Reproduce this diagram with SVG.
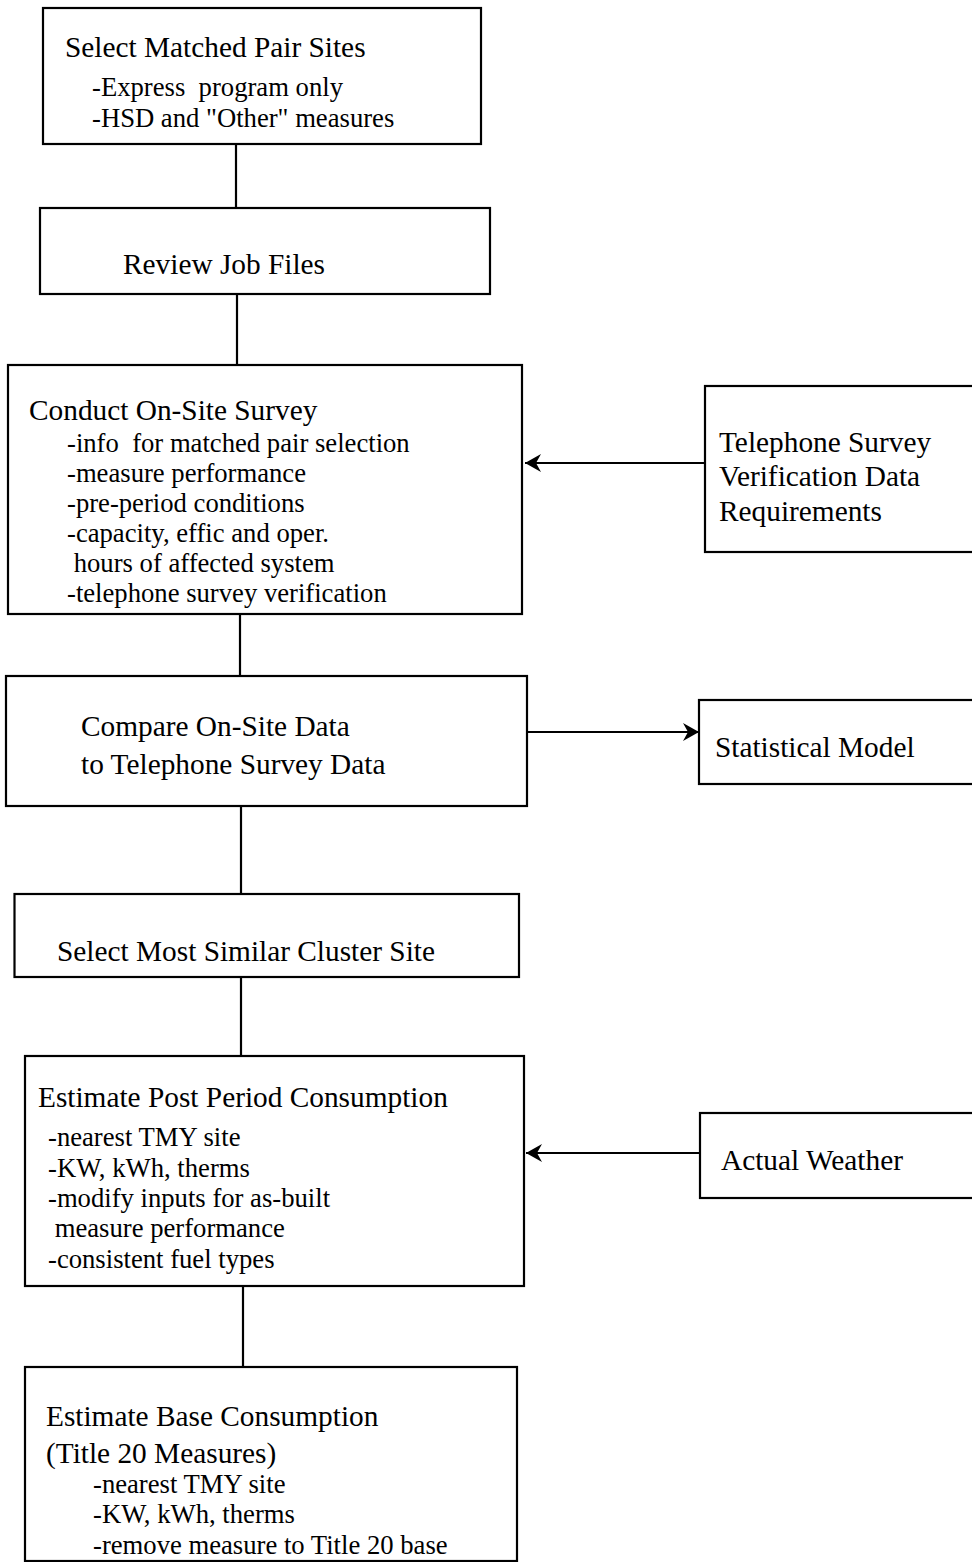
<svg xmlns="http://www.w3.org/2000/svg" width="972" height="1562" viewBox="0 0 972 1562">
  <style>
    .box { fill: #ffffff; stroke: #000000; stroke-width: 2.2; }
    .link { fill: none; stroke: #000000; stroke-width: 2.2; }
    text { font-family: "Liberation Serif", "Times New Roman", serif; fill: #000000; white-space: pre; }
    .title { font-size: 29.33px; }
    .sub { font-size: 26.67px; }
  </style>
  <defs>
    <marker id="arrow" markerUnits="userSpaceOnUse" markerWidth="18" markerHeight="20" refX="16" refY="9" orient="auto">
      <path d="M0,0 L16,9 L0,18 L5,9 Z" fill="#000000"/>
    </marker>
  </defs>
  <rect x="0" y="0" width="972" height="1562" fill="#ffffff"/>

  <!-- connectors -->
  <g id="connectors">
    <line class="link" x1="236" y1="144" x2="236" y2="208"/>
    <line class="link" x1="237" y1="294" x2="237" y2="365"/>
    <line class="link" x1="240" y1="614" x2="240" y2="676"/>
    <line class="link" x1="241" y1="806" x2="241" y2="894"/>
    <line class="link" x1="241" y1="977" x2="241" y2="1056"/>
    <line class="link" x1="243" y1="1286" x2="243" y2="1367"/>
    <line class="link" x1="705" y1="463" x2="525" y2="463" marker-end="url(#arrow)"/>
    <line class="link" x1="527" y1="732" x2="699" y2="732" marker-end="url(#arrow)"/>
    <line class="link" x1="700" y1="1153" x2="526" y2="1153" marker-end="url(#arrow)"/>
  </g>

  <g id="select-matched-pair">
    <rect class="box" x="43" y="8" width="438" height="136"/>
    <text class="title" x="65" y="57">Select Matched Pair Sites</text>
    <text class="sub" x="92" y="96">-Express  program only</text>
    <text class="sub" x="92" y="127">-HSD and "Other" measures</text>
  </g>

  <g id="review-job-files">
    <rect class="box" x="40" y="208" width="450" height="86"/>
    <text class="title" x="123" y="274">Review Job Files</text>
  </g>

  <g id="on-site-survey">
    <rect class="box" x="8" y="365" width="514" height="249"/>
    <text class="title" x="29" y="420">Conduct On-Site Survey</text>
    <text class="sub" x="67" y="452">-info  for matched pair selection</text>
    <text class="sub" x="67" y="482">-measure performance</text>
    <text class="sub" x="67" y="512">-pre-period conditions</text>
    <text class="sub" x="67" y="542">-capacity, effic and oper.</text>
    <text class="sub" x="67" y="572"> hours of affected system</text>
    <text class="sub" x="67" y="602">-telephone survey verification</text>
  </g>

  <g id="telephone-requirements">
    <rect class="box" x="705" y="386" width="275" height="166"/>
    <text class="title" x="719" y="452">Telephone Survey</text>
    <text class="title" x="719" y="486">Verification Data</text>
    <text class="title" x="719" y="521">Requirements</text>
  </g>

  <g id="compare-data">
    <rect class="box" x="6" y="676" width="521" height="130"/>
    <text class="title" x="81" y="736">Compare On-Site Data</text>
    <text class="title" x="81" y="774">to Telephone Survey Data</text>
  </g>

  <g id="statistical-model">
    <rect class="box" x="699" y="700" width="281" height="84"/>
    <text class="title" x="715" y="757">Statistical Model</text>
  </g>

  <g id="cluster-site">
    <rect class="box" x="14.5" y="894" width="504.5" height="83"/>
    <text class="title" x="57" y="961">Select Most Similar Cluster Site</text>
  </g>

  <g id="post-period">
    <rect class="box" x="25" y="1056" width="499" height="230"/>
    <text class="title" x="38" y="1107">Estimate Post Period Consumption</text>
    <text class="sub" x="48" y="1146">-nearest TMY site</text>
    <text class="sub" x="48" y="1177">-KW, kWh, therms</text>
    <text class="sub" x="48" y="1207">-modify inputs for as-built</text>
    <text class="sub" x="48" y="1237"> measure performance</text>
    <text class="sub" x="48" y="1268">-consistent fuel types</text>
  </g>

  <g id="actual-weather">
    <rect class="box" x="700" y="1113" width="280" height="85"/>
    <text class="title" x="721" y="1170">Actual Weather</text>
  </g>

  <g id="base-consumption">
    <rect class="box" x="25" y="1367" width="492" height="194"/>
    <text class="title" x="46" y="1426">Estimate Base Consumption</text>
    <text class="title" x="46" y="1463">(Title 20 Measures)</text>
    <text class="sub" x="93" y="1493">-nearest TMY site</text>
    <text class="sub" x="93" y="1523">-KW, kWh, therms</text>
    <text class="sub" x="93" y="1554">-remove measure to Title 20 base</text>
  </g>
</svg>
